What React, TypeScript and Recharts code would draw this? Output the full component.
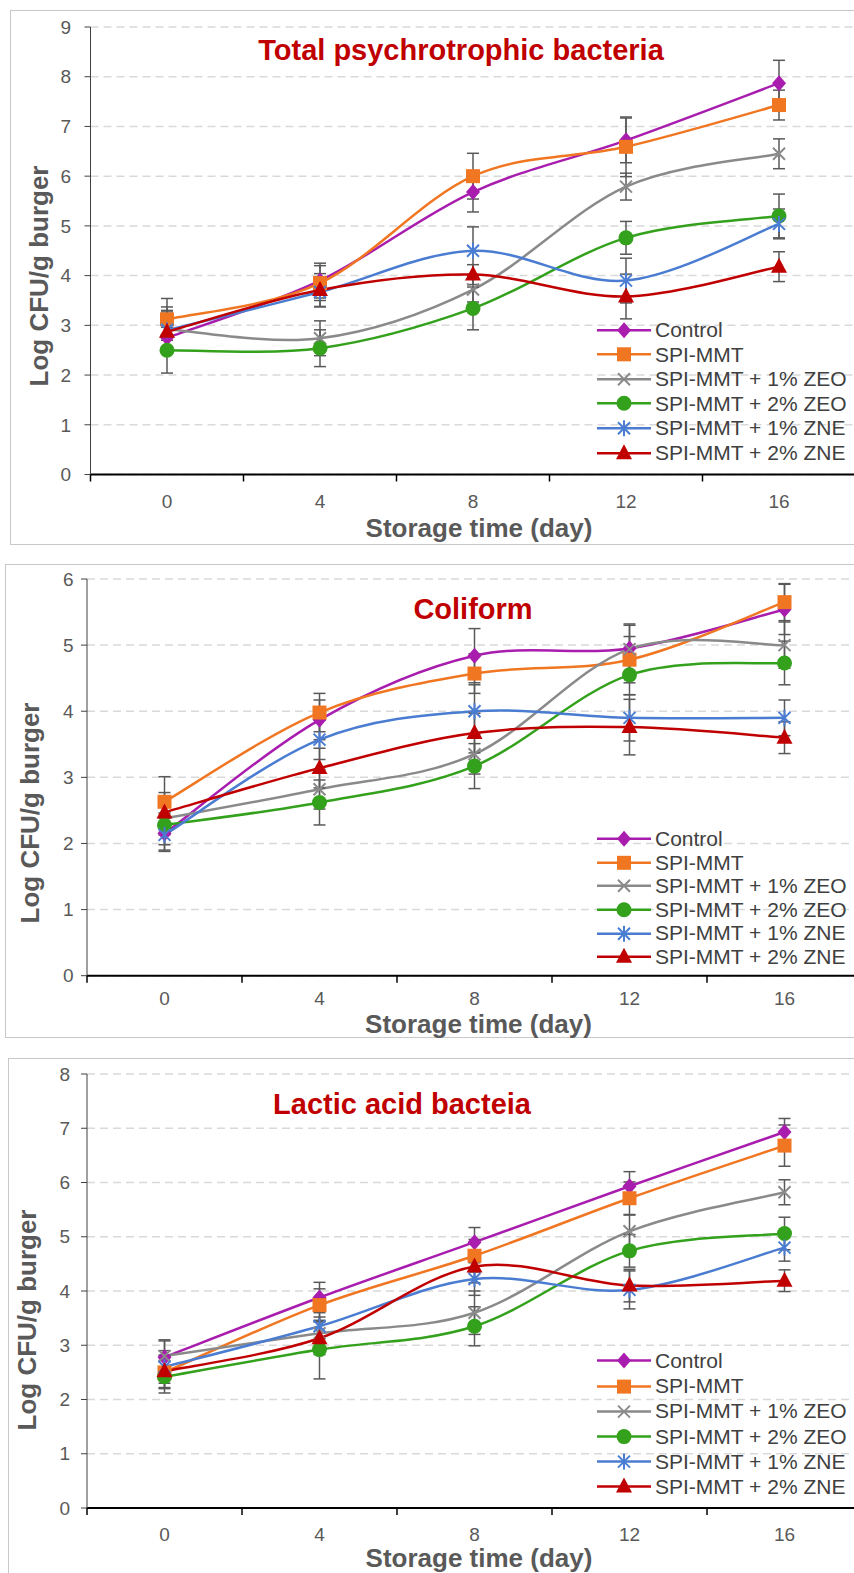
import { CartesianGrid, ErrorBar, Legend, Line, LineChart, XAxis, YAxis } from "recharts";

const DAYS = [0, 4, 8, 12, 16];
const X_TICKS = [-2, 0, 2, 4, 6, 8, 10, 12, 14, 16, 18];

// series order: Control, SPI-MMT, +1% ZEO, +2% ZEO, +1% ZNE, +2% ZNE
const psychroMeans = [
  [2.75, 3.9, 5.68, 6.72, 7.87],
  [3.12, 3.85, 6.0, 6.59, 7.43],
  [2.92, 2.74, 3.72, 5.79, 6.45],
  [2.5, 2.54, 3.34, 4.76, 5.2],
  [2.9, 3.67, 4.5, 3.9, 5.04],
  [2.87, 3.71, 4.02, 3.58, 4.18],
];
const psychroErrors = [
  [0.3, 0.35, 0.4, 0.45, 0.46],
  [0.42, 0.35, 0.46, 0.6, 0.3],
  [0.45, 0.35, 0.25, 0.27, 0.3],
  [0.46, 0.37, 0.43, 0.33, 0.44],
  [0.4, 0.3, 0.48, 0.45, 0.3],
  [0.4, 0.33, 0.2, 0.45, 0.3],
];

const coliformMeans = [
  [2.15, 3.87, 4.84, 4.95, 5.54],
  [2.63, 3.98, 4.57, 4.78, 5.65],
  [2.38, 2.82, 3.35, 4.94, 5.0],
  [2.28, 2.62, 3.17, 4.55, 4.73],
  [2.13, 3.57, 4.0, 3.9, 3.9],
  [2.47, 3.14, 3.67, 3.76, 3.6],
];
const coliformErrors = [
  [0.25, 0.3, 0.41, 0.35, 0.38],
  [0.38, 0.29, 0.3, 0.35, 0.28],
  [0.25, 0.3, 0.3, 0.38, 0.35],
  [0.3, 0.34, 0.34, 0.3, 0.33],
  [0.25, 0.3, 0.4, 0.35, 0.27],
  [0.3, 0.3, 0.3, 0.42, 0.24],
];

const lacticMeans = [
  [2.78, 3.88, 4.9, 5.93, 6.93],
  [2.5, 3.74, 4.65, 5.71, 6.68],
  [2.8, 3.22, 3.6, 5.1, 5.82],
  [2.42, 2.92, 3.35, 4.74, 5.06],
  [2.6, 3.35, 4.22, 4.02, 4.8],
  [2.52, 3.13, 4.45, 4.1, 4.19],
];
const lacticErrors = [
  [0.3, 0.28, 0.27, 0.27, 0.25],
  [0.3, 0.3, 0.3, 0.3, 0.38],
  [0.3, 0.3, 0.4, 0.3, 0.23],
  [0.3, 0.54, 0.36, 0.3, 0.3],
  [0.3, 0.3, 0.3, 0.35, 0.25],
  [0.3, 0.3, 0.3, 0.3, 0.2],
];

const SERIES = [
  { key: "control", name: "Control", color: "#A81CAE", shape: "diamond" },
  { key: "spiMmt", name: "SPI-MMT", color: "#F07622", shape: "square" },
  { key: "zeo1", name: "SPI-MMT + 1% ZEO", color: "#8A8A8A", shape: "cross" },
  { key: "zeo2", name: "SPI-MMT + 2% ZEO", color: "#33A11C", shape: "circle" },
  { key: "zne1", name: "SPI-MMT + 1% ZNE", color: "#4A7DD2", shape: "star" },
  { key: "zne2", name: "SPI-MMT + 2% ZNE", color: "#C00000", shape: "triangle" },
];

const FONT = '"Liberation Sans", Arial, sans-serif';
const CHART_W = 880;

// Excel-style smoothed line (Catmull-Rom through the points)
function excelSmooth(context: any) {
  let pts: number[][] = [];
  return {
    areaStart() {},
    areaEnd() {},
    lineStart() {
      pts = [];
    },
    point(x: number, y: number) {
      pts.push([+x, +y]);
    },
    lineEnd() {
      if (!pts.length) return;
      context.moveTo(pts[0][0], pts[0][1]);
      for (let i = 0; i < pts.length - 1; i++) {
        const p0 = pts[i - 1] || pts[i];
        const p1 = pts[i];
        const p2 = pts[i + 1];
        const p3 = pts[i + 2] || p2;
        context.bezierCurveTo(
          p1[0] + (p2[0] - p0[0]) / 6,
          p1[1] + (p2[1] - p0[1]) / 6,
          p2[0] - (p3[0] - p1[0]) / 6,
          p2[1] - (p3[1] - p1[1]) / 6,
          p2[0],
          p2[1],
        );
      }
    },
  };
}

function Marker({ shape, cx, cy, color }: { shape: string; cx: number; cy: number; color: string }) {
  switch (shape) {
    case "diamond":
      return <polygon points={`${cx},${cy - 8} ${cx + 7},${cy} ${cx},${cy + 8} ${cx - 7},${cy}`} fill={color} />;
    case "square":
      return <rect x={cx - 7} y={cy - 7} width={14} height={14} fill={color} />;
    case "cross":
      return (
        <path
          d={`M${cx - 6},${cy - 6}L${cx + 6},${cy + 6}M${cx + 6},${cy - 6}L${cx - 6},${cy + 6}`}
          stroke={color}
          strokeWidth={2}
          fill="none"
        />
      );
    case "circle":
      return <circle cx={cx} cy={cy} r={7.5} fill={color} />;
    case "star":
      return (
        <path
          d={`M${cx - 6},${cy - 6}L${cx + 6},${cy + 6}M${cx + 6},${cy - 6}L${cx - 6},${cy + 6}M${cx},${cy - 8}L${cx},${cy + 8}`}
          stroke={color}
          strokeWidth={2}
          fill="none"
        />
      );
    default:
      return <polygon points={`${cx},${cy - 9} ${cx + 8},${cy + 6} ${cx - 8},${cy + 6}`} fill={color} />;
  }
}

function buildRows(means: number[][], errors: number[][]) {
  return DAYS.map((day, i) => {
    const row: Record<string, number> = { day };
    SERIES.forEach((s, j) => {
      row[s.key] = means[j][i];
      row[s.key + "Err"] = errors[j][i];
    });
    return row;
  });
}

function XTick(props: any) {
  const { x, y, payload, labelOffset } = props;
  const v = payload.value;
  if (v % 4 === 0) {
    return (
      <text x={x} y={y + labelOffset} textAnchor="middle" fontSize={19} fill="#595959">
        {v}
      </text>
    );
  }
  return <line x1={x} x2={x} y1={y} y2={y + 7} stroke="#000" strokeWidth={1.5} />;
}

function LegendBox({ rowH }: { rowH: number }) {
  return (
    <div style={{ fontFamily: FONT }}>
      {SERIES.map((s) => (
        <div key={s.key} style={{ display: "flex", alignItems: "center", height: rowH }}>
          <svg width={54} height={rowH} style={{ display: "block" }}>
            <line x1={0} x2={54} y1={rowH / 2} y2={rowH / 2} stroke={s.color} strokeWidth={2.5} />
            <Marker shape={s.shape} cx={27} cy={rowH / 2} color={s.color} />
          </svg>
          <span style={{ marginLeft: 4, fontSize: 21, color: "#404040", whiteSpace: "nowrap" }}>{s.name}</span>
        </div>
      ))}
    </div>
  );
}

const PANELS = [
  {
    id: "psychro",
    title: "Total psychrotrophic bacteria",
    means: psychroMeans,
    errors: psychroErrors,
    yMax: 9,
    top: 0,
    height: 546,
    plotLeft: 90.5,
    plotRight: 855.5,
    plotTop: 27,
    plotBottom: 474.5,
    yTickMargin: 13.5,
    xLabelOffset: 33,
    titleX: 461,
    titleY: 60,
    yTitleX: 47.5,
    yTitleY: 276,
    xTitleX: 479,
    xTitleY: 537,
    legendTop: 317.7,
    legendRow: 24.6,
  },
  {
    id: "coliform",
    title: "Coliform",
    means: coliformMeans,
    errors: coliformErrors,
    yMax: 6,
    top: 550,
    height: 488,
    plotLeft: 87,
    plotRight: 862,
    plotTop: 29,
    plotBottom: 425.7,
    yTickMargin: 7.5,
    xLabelOffset: 29,
    titleX: 473,
    titleY: 69,
    yTitleX: 38.5,
    yTitleY: 263,
    xTitleX: 478.5,
    xTitleY: 483,
    legendTop: 277.2,
    legendRow: 23.6,
  },
  {
    id: "lactic",
    title: "Lactic acid bacteia",
    means: lacticMeans,
    errors: lacticErrors,
    yMax: 8,
    top: 1040,
    height: 533,
    plotLeft: 87,
    plotRight: 862,
    plotTop: 34,
    plotBottom: 468,
    yTickMargin: 11,
    xLabelOffset: 33,
    titleX: 402,
    titleY: 74,
    yTitleX: 35.5,
    yTitleY: 280,
    xTitleX: 479,
    xTitleY: 527,
    legendTop: 308.4,
    legendRow: 25.2,
  },
];

const BORDERS = [
  { left: 10, top: 10, height: 535 },
  { left: 5, top: 564, height: 474 },
  { left: 8, top: 1058, height: 600 },
];

function Panel({ cfg }: { cfg: (typeof PANELS)[number] }) {
  const rows = buildRows(cfg.means, cfg.errors);
  const yTicks = Array.from({ length: cfg.yMax + 1 }, (_, i) => i);
  return (
    <div style={{ position: "absolute", left: 0, top: cfg.top }}>
      <LineChart
        width={CHART_W}
        height={cfg.height}
        data={rows}
        margin={{ top: cfg.plotTop, right: CHART_W - cfg.plotRight, bottom: 0, left: 0 }}
      >
        <CartesianGrid vertical={false} stroke="#D9D9D9" strokeDasharray="8 5" strokeWidth={1.5} />
        <XAxis
          dataKey="day"
          type="number"
          domain={[-2, 18]}
          ticks={X_TICKS}
          interval={0}
          tickLine={false}
          tickSize={0}
          tickMargin={0}
          tick={<XTick labelOffset={cfg.xLabelOffset} />}
          axisLine={{ stroke: "#000", strokeWidth: 2 }}
          height={cfg.height - cfg.plotBottom}
        />
        <YAxis
          type="number"
          domain={[0, cfg.yMax]}
          ticks={yTicks}
          interval={0}
          width={cfg.plotLeft}
          tickSize={6}
          tickMargin={cfg.yTickMargin}
          axisLine={{ stroke: "#404040" }}
          tickLine={{ stroke: "#404040" }}
          tick={{ fontSize: 19, fill: "#595959" }}
        />
        <Legend
          layout="vertical"
          align="center"
          verticalAlign="middle"
          wrapperStyle={{ left: 597, top: cfg.legendTop, width: 280 }}
          content={() => <LegendBox rowH={cfg.legendRow} />}
        />
        {SERIES.map((s) => (
          <Line
            key={s.key}
            type={excelSmooth as any}
            dataKey={s.key}
            name={s.name}
            stroke={s.color}
            strokeWidth={2.5}
            activeDot={false}
            isAnimationActive={false}
            dot={(p: any) => <Marker key={`${s.key}-${p.index}`} shape={s.shape} cx={p.cx} cy={p.cy} color={s.color} />}
          >
            <ErrorBar dataKey={s.key + "Err"} direction="y" width={6} strokeWidth={1.5} stroke="#595959" />
          </Line>
        ))}
        <text x={cfg.titleX} y={cfg.titleY} textAnchor="middle" fontSize={29} fontWeight="bold" fill="#C00000">
          {cfg.title}
        </text>
        <text
          x={cfg.yTitleX}
          y={cfg.yTitleY}
          transform={`rotate(-90 ${cfg.yTitleX} ${cfg.yTitleY})`}
          textAnchor="middle"
          fontSize={26}
          fontWeight="bold"
          fill="#595959"
        >
          Log CFU/g burger
        </text>
        <text x={cfg.xTitleX} y={cfg.xTitleY} textAnchor="middle" fontSize={26} fontWeight="bold" fill="#595959">
          Storage time (day)
        </text>
      </LineChart>
    </div>
  );
}

export default function App() {
  return (
    <div
      style={{
        position: "absolute",
        left: 0,
        top: 0,
        width: 854,
        height: 1573,
        overflow: "hidden",
        background: "#fff",
        fontFamily: FONT,
      }}
    >
      {BORDERS.map((b, i) => (
        <div
          key={i}
          style={{
            position: "absolute",
            left: b.left,
            top: b.top,
            width: 900,
            height: b.height,
            border: "1px solid #C8C8C8",
            boxSizing: "border-box",
          }}
        />
      ))}
      {PANELS.map((cfg) => (
        <Panel key={cfg.id} cfg={cfg} />
      ))}
    </div>
  );
}
